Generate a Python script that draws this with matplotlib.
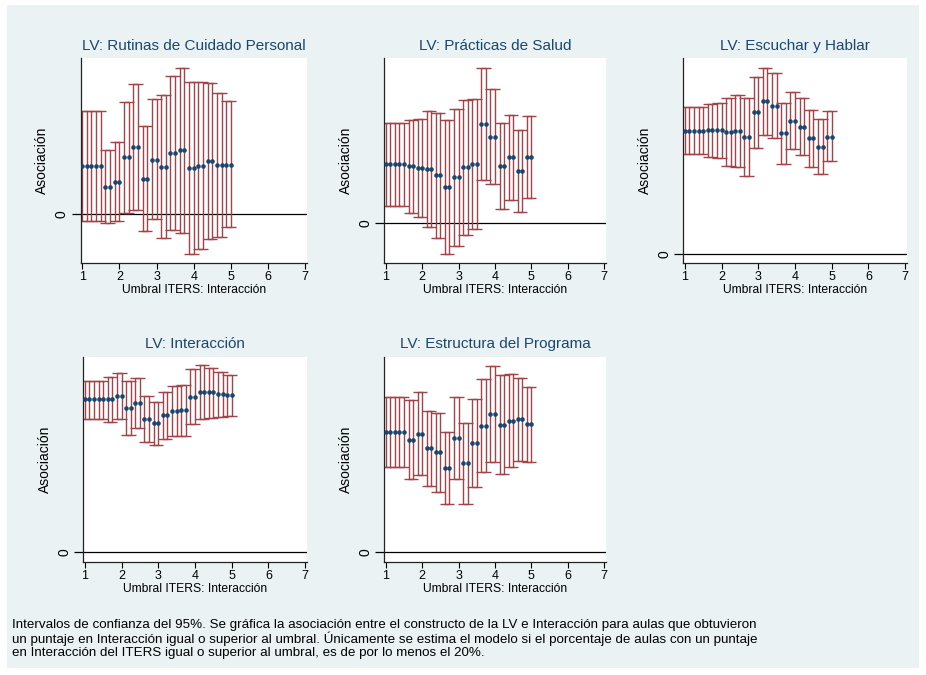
import numpy as np
import matplotlib
matplotlib.use("Agg")
import matplotlib.pyplot as plt
from matplotlib.patches import Rectangle

plt.rcParams['font.family'] = ['Liberation Sans', 'DejaVu Sans']

# umbrales de Interaccion (1 a 5, paso 0.125)
umbral = np.arange(1, 5.0001, 0.125)

titles = ["LV: Rutinas de Cuidado Personal", "LV: Prácticas de Salud",
          "LV: Escuchar y Hablar", "LV: Interacción",
          "LV: Estructura del Programa"]

# coeficientes e intervalos (unidades arbitrarias)
coef_rut = [1.43, 1.43, 1.43, 1.43, 1.43, 0.81, 0.81, 0.96, 0.96, 1.69, 1.69,
            2.00, 2.00, 1.04, 1.04, 1.62, 1.62, 1.41, 1.41, 1.83, 1.83, 1.90,
            1.90, 1.38, 1.38, 1.44, 1.44, 1.58, 1.58, 1.46, 1.46, 1.47, 1.47]
hi_rut = [3.08, 3.08, 3.08, 3.08, 3.08, 1.91, 1.91, 2.14, 2.14, 3.36, 3.36,
          3.88, 3.88, 2.63, 2.63, 3.43, 3.43, 3.55, 3.55, 4.14, 4.14, 4.38,
          4.38, 3.96, 3.96, 3.94, 3.94, 3.93, 3.93, 3.61, 3.61, 3.37, 3.37]
lo_rut = [-0.22, -0.22, -0.22, -0.22, -0.22, -0.27, -0.27, -0.21, -0.21,
          0.03, 0.03, 0.11, 0.11, -0.53, -0.53, -0.17, -0.17, -0.74, -0.74,
          -0.49, -0.49, -0.57, -0.57, -1.21, -1.21, -1.05, -1.05, -0.77,
          -0.77, -0.69, -0.69, -0.41, -0.41]

coef_sal = [1.75, 1.75, 1.75, 1.75, 1.75, 1.69, 1.69, 1.63, 1.63, 1.61, 1.61,
            1.42, 1.42, 1.08, 1.08, 1.37, 1.37, 1.66, 1.66, 1.75, 1.75, 2.97,
            2.97, 2.58, 2.58, 1.71, 1.71, 1.96, 1.96, 1.54, 1.54, 1.97, 1.97]
hi_sal = [2.98, 2.98, 2.98, 2.98, 2.98, 3.08, 3.08, 3.10, 3.10, 3.35, 3.35,
          3.30, 3.30, 3.08, 3.08, 3.41, 3.41, 3.68, 3.68, 3.70, 3.70, 4.65,
          4.65, 4.00, 4.00, 3.00, 3.00, 3.22, 3.22, 2.78, 2.78, 3.20, 3.20]
lo_sal = [0.50, 0.50, 0.50, 0.50, 0.50, 0.30, 0.30, 0.18, 0.18, -0.12, -0.12,
          -0.45, -0.45, -0.95, -0.95, -0.70, -0.70, -0.38, -0.38, -0.20,
          -0.20, 1.27, 1.27, 1.16, 1.16, 0.40, 0.40, 0.68, 0.68, 0.31, 0.31,
          0.73, 0.73]

coef_esc = [3.71, 3.71, 3.71, 3.71, 3.71, 3.73, 3.73, 3.72, 3.72, 3.66, 3.66,
            3.70, 3.70, 3.53, 3.53, 4.26, 4.26, 4.60, 4.60, 4.46, 4.46, 3.63,
            3.63, 4.01, 4.01, 3.83, 3.83, 3.48, 3.48, 3.23, 3.23, 3.53, 3.53]
hi_esc = [4.41, 4.41, 4.41, 4.41, 4.41, 4.52, 4.52, 4.55, 4.55, 4.68, 4.68,
          4.78, 4.78, 4.70, 4.70, 5.33, 5.33, 5.60, 5.60, 5.45, 5.45, 4.55,
          4.55, 4.86, 4.86, 4.68, 4.68, 4.33, 4.33, 4.05, 4.05, 4.29, 4.29]
lo_esc = [3.00, 3.00, 3.00, 3.00, 3.00, 2.93, 2.93, 2.88, 2.88, 2.65, 2.65,
          2.61, 2.61, 2.36, 2.36, 3.18, 3.18, 3.58, 3.58, 3.48, 3.48, 2.70,
          2.70, 3.15, 3.15, 2.97, 2.97, 2.63, 2.63, 2.41, 2.41, 2.80, 2.80]

coef_int = [4.59, 4.59, 4.59, 4.59, 4.59, 4.60, 4.60, 4.70, 4.70, 4.34, 4.34,
            4.49, 4.49, 4.01, 4.01, 3.87, 3.87, 4.11, 4.11, 4.25, 4.25, 4.26,
            4.26, 4.67, 4.67, 4.81, 4.81, 4.80, 4.80, 4.76, 4.76, 4.71, 4.71]
hi_int = [5.15, 5.15, 5.15, 5.15, 5.15, 5.25, 5.25, 5.38, 5.38, 5.13, 5.13,
          5.23, 5.23, 4.69, 4.69, 4.52, 4.52, 4.82, 4.82, 4.99, 4.99, 5.02,
          5.02, 5.49, 5.49, 5.62, 5.62, 5.54, 5.54, 5.42, 5.42, 5.32, 5.32]
lo_int = [3.99, 3.99, 3.99, 3.99, 3.99, 3.92, 3.92, 3.99, 3.99, 3.52, 3.52,
          3.72, 3.72, 3.32, 3.32, 3.22, 3.22, 3.40, 3.40, 3.50, 3.50, 3.50,
          3.50, 3.84, 3.84, 4.01, 4.01, 4.02, 4.02, 4.05, 4.05, 4.08, 4.08]

coef_est = [3.60, 3.60, 3.60, 3.60, 3.60, 3.38, 3.38, 3.55, 3.55, 3.12, 3.12,
            3.00, 3.00, 2.54, 2.54, 3.42, 3.42, 2.67, 2.67, 3.27, 3.27, 3.80,
            3.80, 4.15, 4.15, 3.83, 3.83, 3.95, 3.95, 3.99, 3.99, 3.85, 3.85]
hi_est = [4.65, 4.65, 4.65, 4.65, 4.65, 4.56, 4.56, 4.80, 4.80, 4.25, 4.25,
          4.19, 4.19, 3.60, 3.60, 4.65, 4.65, 3.87, 3.87, 4.61, 4.61, 5.21,
          5.21, 5.60, 5.60, 5.32, 5.32, 5.35, 5.35, 5.24, 5.24, 4.97, 4.97]
lo_est = [2.55, 2.55, 2.55, 2.55, 2.55, 2.20, 2.20, 2.32, 2.32, 1.99, 1.99,
          1.82, 1.82, 1.46, 1.46, 2.19, 2.19, 1.46, 1.46, 1.95, 1.95, 2.40,
          2.40, 2.70, 2.70, 2.35, 2.35, 2.57, 2.57, 2.73, 2.73, 2.72, 2.72]

series = [(coef_rut, lo_rut, hi_rut), (coef_sal, lo_sal, hi_sal),
          (coef_esc, lo_esc, hi_esc), (coef_int, lo_int, hi_int),
          (coef_est, lo_est, hi_est)]

W, H = 926, 675
# left, right, top, bottom in pixels
boxes = [(80.7, 306.7, 58.3, 263.3), (384.3, 605.7, 58.3, 263.3),
         (683.3, 906.7, 58.3, 263.3), (83.3, 306.7, 356.7, 562.3),
         (384.3, 605.7, 356.7, 562.3)]
ylims = [(-1.49, 4.66), (-1.22, 4.93), (-0.27, 5.88), (-0.30, 5.87),
         (-0.30, 5.87)]

bg = '#EAF2F3'
navy = '#1A476F'
maroon = '#A0434B'

fig = plt.figure(figsize=(W / 100, H / 100), dpi=100)
fig.patch.set_facecolor('white')
fig.patches.append(Rectangle((7 / W, 1 - 668 / H), 912 / W, 663 / H,
                             transform=fig.transFigure, facecolor=bg,
                             edgecolor='none', zorder=-10))

for (l, r, t, b), title, (c, lo, hi), yl in zip(boxes, titles, series, ylims):
    ax = fig.add_axes([l / W, 1 - b / H, (r - l) / W, (b - t) / H])
    ax.set_facecolor('white')
    c = np.array(c)
    lo = np.array(lo)
    hi = np.array(hi)
    ax.errorbar(umbral, c, yerr=[c - lo, hi - c], fmt='none', ecolor=maroon,
                elinewidth=1.0, capsize=3.5, capthick=1.0, zorder=2)
    ax.plot(umbral, c, 'o', color=navy, ms=3.3, mew=0, zorder=3)
    ax.axhline(0, color='black', lw=0.9, zorder=1)
    ax.set_xlim(0.96, 7.04)
    ax.set_ylim(*yl)
    ax.set_xticks(range(1, 8))
    ax.set_yticks([0])
    ax.tick_params(axis='x', length=4, width=0.8, pad=1.5, labelsize=9)
    ax.tick_params(axis='y', length=6.5, width=0.9, pad=2, labelsize=10,
                   labelrotation=90)
    for lab in ax.get_yticklabels():
        lab.set_va('center')
    for s in ['top', 'right']:
        ax.spines[s].set_visible(False)
    for s in ['left', 'bottom']:
        ax.spines[s].set_linewidth(0.9)
        ax.spines[s].set_color('#222222')
    ax.set_xlabel('Umbral ITERS: Interacción', fontsize=8.7, labelpad=1)
    ax.set_ylabel('Asociación', fontsize=10, labelpad=4)
    ax.set_title(title, fontsize=11, color=navy, pad=6)

note = ("Intervalos de confianza del 95%. Se gráfica la asociación entre el "
        "constructo de la LV e Interacción para aulas que obtuvieron\n"
        "un puntaje en Interacción igual o superior al umbral. Únicamente se "
        "estima el modelo si el porcentaje de aulas con un puntaje\n"
        "en Interacción del ITERS igual o superior al umbral, es de por lo "
        "menos el 20%.")
fig.text(12 / W, 1 - 619 / H, note, fontsize=9.6, va='top', ha='left',
         linespacing=1.05)

fig.savefig('out.png', dpi=100, facecolor='white')
